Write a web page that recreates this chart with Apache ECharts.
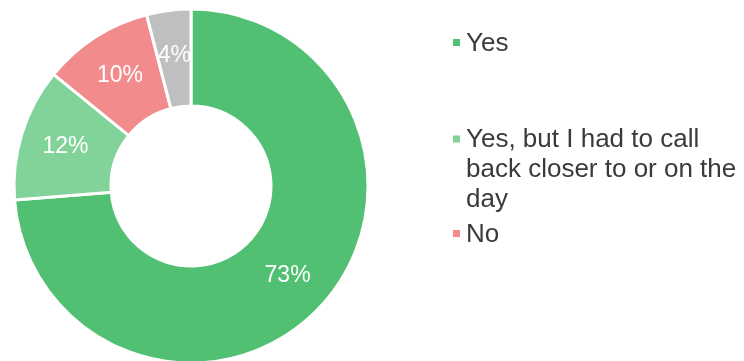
<!DOCTYPE html>
<html><head><meta charset="utf-8">
<script src="https://cdn.jsdelivr.net/npm/echarts@6/dist/echarts.min.js"></script>
<style>html,body{margin:0;padding:0;background:#fff}#c{width:744px;height:361px}</style>
</head><body><div id="c"></div>
<script>
const categories = ["Yes", "Yes, but I had to call back closer to or on the day", "No", "Other"];
const values = [73, 12, 10, 4];
const colors = ["#52C072", "#82D399", "#F28B8B", "#BFBFBF"];
const legendLabels = {"Yes": "Yes", "Yes, but I had to call back closer to or on the day": "Yes, but I had to call\nback closer to or on the\nday", "No": "No"};

const chart = echarts.init(document.getElementById('c'));
const font = 'Liberation Sans, Arial, sans-serif';
function legend(name, top, pad) {
  return {
    show: true, orient: 'vertical', left: 451, top: top, padding: 0,
    itemWidth: 9, itemHeight: 9, itemGap: 0, icon: 'rect',
    data: [name],
    formatter: n => legendLabels[n],
    textStyle: { fontFamily: font, fontSize: 26, color: '#3a3a3a', lineHeight: 30, padding: pad, rich: {} }
  };
}
chart.setOption({
  animation: false,
  color: colors,
  legend: [
    legend(categories[0], 26.5, [2, 0, 0, 0]),
    legend(categories[1], 63, [62, 0, 0, 0]),
    legend(categories[2], 217.5, [2, 0, 0, 0])
  ],
  series: [{
    type: 'pie',
    radius: [80, 177],
    center: [191, 186],
    startAngle: 90,
    clockwise: true,
    avoidLabelOverlap: false,
    itemStyle: { borderColor: '#fff', borderWidth: 3 },
    label: { show: true, position: 'inside', formatter: '{c}%', color: '#fff', fontSize: 23, fontFamily: font },
    labelLine: { show: false },
    data: categories.map((c, i) => ({ name: c, value: values[i] }))
  }]
});
</script></body></html>
